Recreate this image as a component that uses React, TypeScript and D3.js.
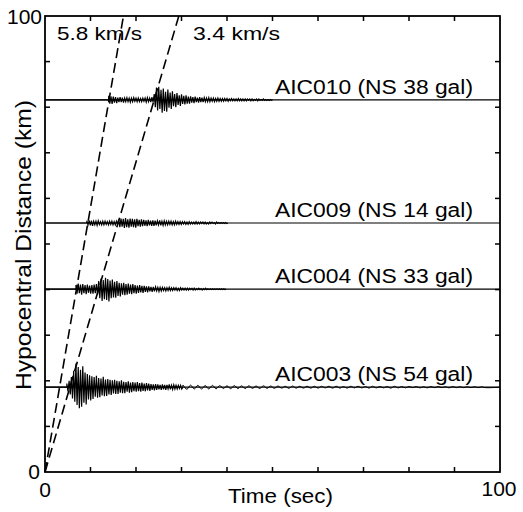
import React from "react";
import * as d3 from "d3";

// ---- data ----
const xTickLabels = ["0", "100"];
const yTickLabels = ["0", "100"];
const velocities = [5.8, 3.4]; // km/s
const velocityLabels = ["5.8 km/s", "3.4 km/s"];

const stations = ["AIC010", "AIC009", "AIC004", "AIC003"];
const stationLabels = ["AIC010 (NS 38 gal)", "AIC009 (NS 14 gal)", "AIC004 (NS 33 gal)", "AIC003 (NS 54 gal)"];
const distances = [81.6, 54.6, 40.1, 18.6]; // km
const onsetTimes = [14.0, 9.2, 6.8, 4.8]; // sec
const sampleStep = 0.5; // sec per oscillation

// peak amplitudes (km units on the distance axis)
const up010 = [0.9,0.8,0.7,0.6,0.5,0.6,0.5,0.4,0.5,0.4,0.4,0.5,0.4,0.4,0.3,0.4,0.4,0.5,0.4,0.6,
  1.3,2.7,2.9,2.2,2.5,1.8,2.3,1.6,1.9,1.3,1.5,1.0,1.2,0.9,1.0,0.7,0.8,0.6,0.7,0.5,
  0.6,0.5,0.5,0.4,0.5,0.4,0.4,0.3,0.4,0.3,0.3,0.3,0.3,0.2,0.3,0.2,0.2,0.3,0.2,0.2,
  0.2,0.2,0.2,0.2,0.1,0.2,0.2,0.1,0.2,0.1,0.1,0.1];
const dn010 = [0.8,0.9,0.6,0.7,0.5,0.5,0.6,0.4,0.4,0.5,0.4,0.3,0.4,0.4,0.4,0.3,0.5,0.4,0.5,0.5,
  1.6,2.3,2.0,2.8,2.4,2.6,1.7,2.0,1.4,1.6,1.1,1.3,0.9,1.0,0.8,0.8,0.6,0.7,0.5,0.6,
  0.5,0.5,0.4,0.4,0.4,0.3,0.4,0.3,0.3,0.3,0.3,0.2,0.3,0.2,0.2,0.2,0.2,0.2,0.2,0.2,
  0.2,0.1,0.2,0.2,0.1,0.2,0.1,0.1,0.1,0.1,0.1,0.1];

const up009 = [0.5,0.6,0.5,0.4,0.4,0.5,0.3,0.4,0.4,0.3,0.4,0.4,0.3,0.4,
  0.8,1.0,0.9,1.1,0.8,1.0,0.9,0.8,0.9,0.7,0.8,0.7,
  0.6,0.7,0.5,0.6,0.5,0.5,0.6,0.4,0.5,0.4,0.4,0.4,0.3,0.4,0.3,0.3,
  0.3,0.3,0.2,0.3,0.2,0.2,0.3,0.2,0.2,0.2,0.2,0.1,0.2,0.2,0.1,0.2,0.1,0.1,0.1,0.1];
const dn009 = [0.4,0.5,0.6,0.4,0.5,0.3,0.4,0.4,0.3,0.4,0.3,0.4,0.4,0.3,
  0.9,0.8,1.1,0.9,1.0,0.8,0.9,1.0,0.7,0.8,0.7,0.6,
  0.7,0.5,0.6,0.6,0.5,0.4,0.5,0.5,0.4,0.4,0.3,0.4,0.4,0.3,0.3,0.3,
  0.2,0.3,0.3,0.2,0.2,0.2,0.2,0.2,0.1,0.2,0.2,0.2,0.1,0.1,0.2,0.1,0.1,0.1,0.1,0.1];

const up004 = [0.9,1.2,1.0,1.1,0.9,1.0,0.8,0.9,1.0,1.1,
  1.8,2.3,2.0,2.5,2.2,1.9,2.1,1.6,1.8,1.4,
  1.3,1.4,1.1,1.2,1.0,1.1,0.9,0.8,0.9,0.7,
  0.7,0.6,0.6,0.5,0.5,0.5,0.4,0.4,0.4,0.3,
  0.3,0.4,0.3,0.3,0.3,0.2,0.3,0.2,0.2,0.2,0.2,0.2,0.2,0.1,0.2,0.1,
  0.1,0.2,0.1,0.1,0.1,0.1,0.1,0.1,0.1,0.1];
const dn004 = [1.0,0.9,1.2,0.9,1.1,0.8,1.0,1.0,0.9,1.2,
  2.0,2.6,2.2,2.4,2.7,2.0,1.8,1.9,1.5,1.6,
  1.2,1.3,1.2,1.0,1.1,0.9,1.0,0.8,0.7,0.8,
  0.6,0.7,0.5,0.6,0.5,0.4,0.5,0.4,0.3,0.4,
  0.3,0.3,0.3,0.2,0.3,0.3,0.2,0.2,0.2,0.2,0.1,0.2,0.2,0.1,0.1,0.2,
  0.1,0.1,0.1,0.1,0.1,0.1,0.1,0.1,0.1,0.1];

const up003 = [0.8,1.4,2.2,
  3.6,5.2,4.4,3.8,4.6,3.2,2.9,2.6,
  2.4,2.2,2.5,2.0,1.9,2.3,1.7,1.8,1.6,
  1.5,1.6,1.4,1.3,1.5,1.2,1.1,1.3,1.0,1.1,1.0,
  1.1,0.9,1.0,0.8,0.9,0.8,
  0.7,0.6,0.7,0.6,0.5,0.6,0.5,0.5,0.6,0.4,0.5,0.4,0.4,0.4];
const dn003 = [0.9,1.6,2.5,
  3.2,3.9,4.6,4.3,3.4,3.8,2.7,2.9,
  2.6,2.1,2.3,2.2,1.8,2.0,1.9,1.6,1.7,
  1.4,1.5,1.5,1.2,1.3,1.3,1.0,1.2,1.1,0.9,1.0,
  0.9,1.0,0.8,0.9,0.7,0.8,
  0.6,0.7,0.6,0.5,0.6,0.5,0.6,0.4,0.5,0.5,0.4,0.4,0.3,0.4];
// long-period coda of AIC003
const tailStart003 = 30.0;
const tailStep003 = 1.6;
const tailUp003 = [0.4,0.45,0.4,0.35,0.4,0.35,0.3,0.35,0.3,0.3,0.25,0.3,0.25,0.25,0.2,0.25,0.2,0.2,0.2,0.2,0.2,
  0.2,0.15,0.2,0.2,0.15,0.2,0.15,0.15,0.2,0.15,0.15,0.15,0.1,0.15,0.15,0.1,0.15,0.1,0.1,0.1,0.1];
const tailDn003 = [0.45,0.4,0.4,0.4,0.35,0.3,0.35,0.3,0.3,0.25,0.3,0.25,0.25,0.2,0.25,0.2,0.2,0.2,0.2,0.15,0.2,
  0.2,0.2,0.15,0.15,0.2,0.15,0.15,0.2,0.15,0.15,0.1,0.15,0.15,0.1,0.1,0.15,0.1,0.1,0.1,0.1,0.1];

const upperPeaks = [up010, up009, up004, up003];
const lowerPeaks = [dn010, dn009, dn004, dn003];

// ---- layout ----
const W = 523, H = 512;
const FONT = "'Liberation Sans', Arial, Helvetica, sans-serif";

export default function App() {
  const x = d3.scaleLinear().domain([0, 100]).range([45, 500]);
  const y = d3.scaleLinear().domain([0, 100]).range([472, 16]);
  const line = d3.line<[number, number]>().x((d) => x(d[0])).y((d) => y(d[1]));
  const smooth = d3.line<[number, number]>().x((d) => x(d[0])).y((d) => y(d[1])).curve(d3.curveNatural);

  const xt = x.ticks(10).filter((v) => v > 0 && v < 100);
  const yt = y.ticks(10).filter((v) => v > 0 && v < 100);
  const tl = 5;

  const traces = stations.map((s, k) => {
    const d0 = distances[k];
    const t0 = onsetTimes[k];
    const pts: [number, number][] = [[0, d0], [t0, d0]];
    const ups = upperPeaks[k], dns = lowerPeaks[k];
    ups.forEach((a, i) => {
      const t = t0 + i * sampleStep;
      pts.push([t, d0 + a]);
      pts.push([t + sampleStep / 2, d0 - dns[i]]);
    });
    const tEnd = t0 + ups.length * sampleStep;
    let tailPath = "";
    if (s === "AIC003") {
      const tp: [number, number][] = [[tEnd, d0]];
      tailUp003.forEach((a, i) => {
        const t = tailStart003 + i * tailStep003;
        tp.push([t + tailStep003 * 0.25, d0 + a]);
        tp.push([t + tailStep003 * 0.75, d0 - tailDn003[i]]);
      });
      tp.push([100, d0]);
      tailPath = smooth(tp) || "";
    }
    pts.push([tEnd, d0]);
    return { main: line(pts) || "", tail: tailPath, baseline: line([[0, d0], [100, d0]]) || "" };
  });

  return (
    <svg width={W} height={H} style={{ position: "absolute", left: 0, top: 0, background: "#fff" }}>
      <rect x={0} y={0} width={W} height={H} fill="#fff" />
      {/* traces */}
      {traces.map((tr, k) => (
        <g key={k} fill="none" stroke="#000">
          <path d={tr.baseline} strokeWidth={1.2} />
          <path d={tr.main} strokeWidth={1.2} />
          {tr.tail && <path d={tr.tail} strokeWidth={1} />}
        </g>
      ))}
      {/* velocity lines */}
      {velocities.map((v, i) => (
        <path key={i} d={line([[0, 0], [100 / v, 100]]) || ""} fill="none" stroke="#000"
          strokeWidth={1.6} strokeDasharray="10,5" />
      ))}
      {/* frame */}
      <rect x={x(0)} y={y(100)} width={x(100) - x(0)} height={y(0) - y(100)} fill="none" stroke="#000" strokeWidth={1.8} />
      {xt.map((v) => (
        <g key={"x" + v} stroke="#000" strokeWidth={1.5}>
          <line x1={x(v)} x2={x(v)} y1={y(0)} y2={y(0) - tl} />
          <line x1={x(v)} x2={x(v)} y1={y(100)} y2={y(100) + tl} />
        </g>
      ))}
      {yt.map((v) => (
        <g key={"y" + v} stroke="#000" strokeWidth={1.5}>
          <line x1={x(0)} x2={x(0) + tl} y1={y(v)} y2={y(v)} />
          <line x1={x(100)} x2={x(100) - tl} y1={y(v)} y2={y(v)} />
        </g>
      ))}
      <g fontFamily={FONT} fill="#000">
        {/* tick labels */}
        <text x={x(0)} y={497} fontSize={21} textAnchor="middle">{xTickLabels[0]}</text>
        <text x={x(100) - 1} y={496} fontSize={21} textAnchor="middle">{xTickLabels[1]}</text>
        <text x={40} y={479} fontSize={21} textAnchor="end">{yTickLabels[0]}</text>
        <text x={42} y={24} fontSize={21} textAnchor="end">{yTickLabels[1]}</text>
        {/* axis titles */}
        <text x={228} y={503} fontSize={21} textLength={105} lengthAdjust="spacingAndGlyphs">Time (sec)</text>
        <text transform="translate(31,245) rotate(-90)" fontSize={22} textAnchor="middle"
          textLength={290} lengthAdjust="spacingAndGlyphs">Hypocentral Distance (km)</text>
        {/* velocity labels */}
        <text x={57} y={40} fontSize={19} textLength={85} lengthAdjust="spacingAndGlyphs">{velocityLabels[0]}</text>
        <text x={193} y={40} fontSize={19} textLength={87} lengthAdjust="spacingAndGlyphs">{velocityLabels[1]}</text>
        {/* station labels */}
        {stationLabels.map((lab, k) => (
          <text key={lab} x={275} y={y(distances[k]) - 6} fontSize={20} textLength={198} lengthAdjust="spacingAndGlyphs">{lab}</text>
        ))}
      </g>
    </svg>
  );
}
